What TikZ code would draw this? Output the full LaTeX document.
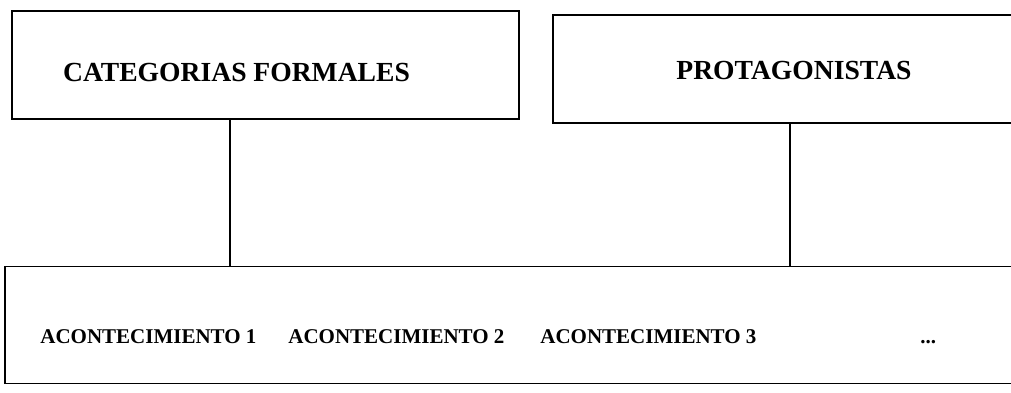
\documentclass[tikz,border=0pt]{standalone}
\usepackage{fontspec}
\setmainfont{Liberation Serif}
\begin{document}
\begin{tikzpicture}[x=0.5pt,y=-0.5pt,
  box/.style={draw, line width=0.8pt, inner sep=0pt},
  link/.style={line width=0.8pt},
  toptext/.style={font=\bfseries\fontsize{13.8}{16}\selectfont, inner sep=0pt},
  evtext/.style={font=\bfseries\fontsize{10.5}{12}\selectfont, inner sep=0pt, anchor=base west}]
\useasboundingbox (0,0) rectangle (1011,392);
\node[box, minimum width=253.5pt, minimum height=54pt] (cat) at (265.5,65) {};
\node[box, minimum width=238.5pt, minimum height=54pt] (pro) at (791.5,69) {};
\node[box, minimum width=512.5pt, minimum height=58.5pt] (acon) at (517.5,325) {};
\node[toptext] (catt) at (236.5,72) {CATEGORIAS FORMALES};
\node[toptext] (prot) at (794,70) {PROTAGONISTAS};
\node[evtext] (e1) at (40,343) {ACONTECIMIENTO 1};
\node[evtext] (e2) at (288,343) {ACONTECIMIENTO 2};
\node[evtext] (e3) at (540,343) {ACONTECIMIENTO 3};
\node[evtext] (e4) at (920,343) {...};
\coordinate (x1) at (230,0);
\coordinate (x2) at (790,0);
\draw[link] (cat.south -| x1) -- (acon.north -| x1);
\draw[link] (pro.south -| x2) -- (acon.north -| x2);
\end{tikzpicture}
\end{document}
